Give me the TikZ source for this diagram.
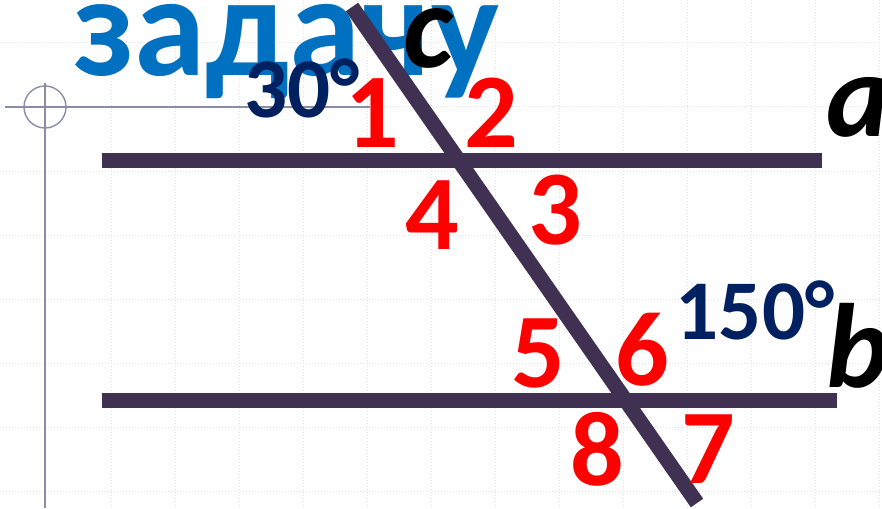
\documentclass[tikz,border=0pt]{standalone}
\usepackage{fontspec}
\setmainfont{Carlito}
\definecolor{linecol}{HTML}{403152}
\definecolor{numred}{HTML}{FF0000}
\definecolor{navy}{HTML}{002060}
\definecolor{titleblue}{HTML}{0070C0}
\definecolor{gridcol}{HTML}{E2E2EA}
\definecolor{axiscol}{HTML}{8C8CA8}
\tikzset{
  gridline/.style={gridcol, line width=1pt, dotted},
  axisline/.style={axiscol, line width=1.4pt},
  thickline/.style={linecol, line width=15pt, line cap=butt},
  num/.style={text=numred, inner sep=0pt, font=\fontsize{106}{106}\selectfont\bfseries},
  angle/.style={text=navy, inner sep=0pt, font=\fontsize{85}{85}\selectfont\bfseries},
  linelabel/.style={text=black, inner sep=0pt, font=\fontsize{120}{120}\selectfont\bfseries\itshape},
  title/.style={text=titleblue, inner sep=0pt, font=\fontsize{144}{144}\selectfont\bfseries}
}
\begin{document}
\begin{tikzpicture}[x=1pt,y=-1pt]
\useasboundingbox (0,0) rectangle (882,508);
\fill[white] (0,0) rectangle (882,508);
% grid
\foreach \x in {111,175,...,879} \draw[gridline] (\x,0) -- (\x,508);
\foreach \y in {43,107,...,491} \draw[gridline] (0,\y) -- (882,\y);
% axes
\draw[axisline] (5,107) -- (370,107);
\draw[axisline] (45,83) -- (45,508);
\draw[axisline] (45,107) circle[radius=21pt];
% title
\node[title, anchor=base west] (title) at (73,76) {задачу};
% lines
\coordinate (a1) at (102,160);
\coordinate (a2) at (822,160);
\coordinate (b1) at (102,400);
\coordinate (b2) at (837,400);
\coordinate (c1) at (352,7);
\coordinate (c2) at (697,503);
\draw[thickline] (a1) -- (a2);
\draw[thickline] (b1) -- (b2);
\draw[thickline] (c1) -- (c2);
% labels
\node[linelabel] (lc) at (428,38) {c};
\node[linelabel] (la) at (858,107) {a};
\node[linelabel] (lb) at (858,346) {b};
\node[angle] (ang30) at (302,88) {30°};
\node[angle] (ang150) at (755,310) {150°};
\node[num] (n1) at (372,113) {1};
\node[num] (n2) at (491,113) {2};
\node[num] (n3) at (555,210) {3};
\node[num] (n4) at (432,215) {4};
\node[num] (n5) at (538,353) {5};
\node[num] (n6) at (642,350) {6};
\node[num] (n7) at (708,449) {7};
\node[num] (n8) at (597,449) {8};
\end{tikzpicture}
\end{document}
